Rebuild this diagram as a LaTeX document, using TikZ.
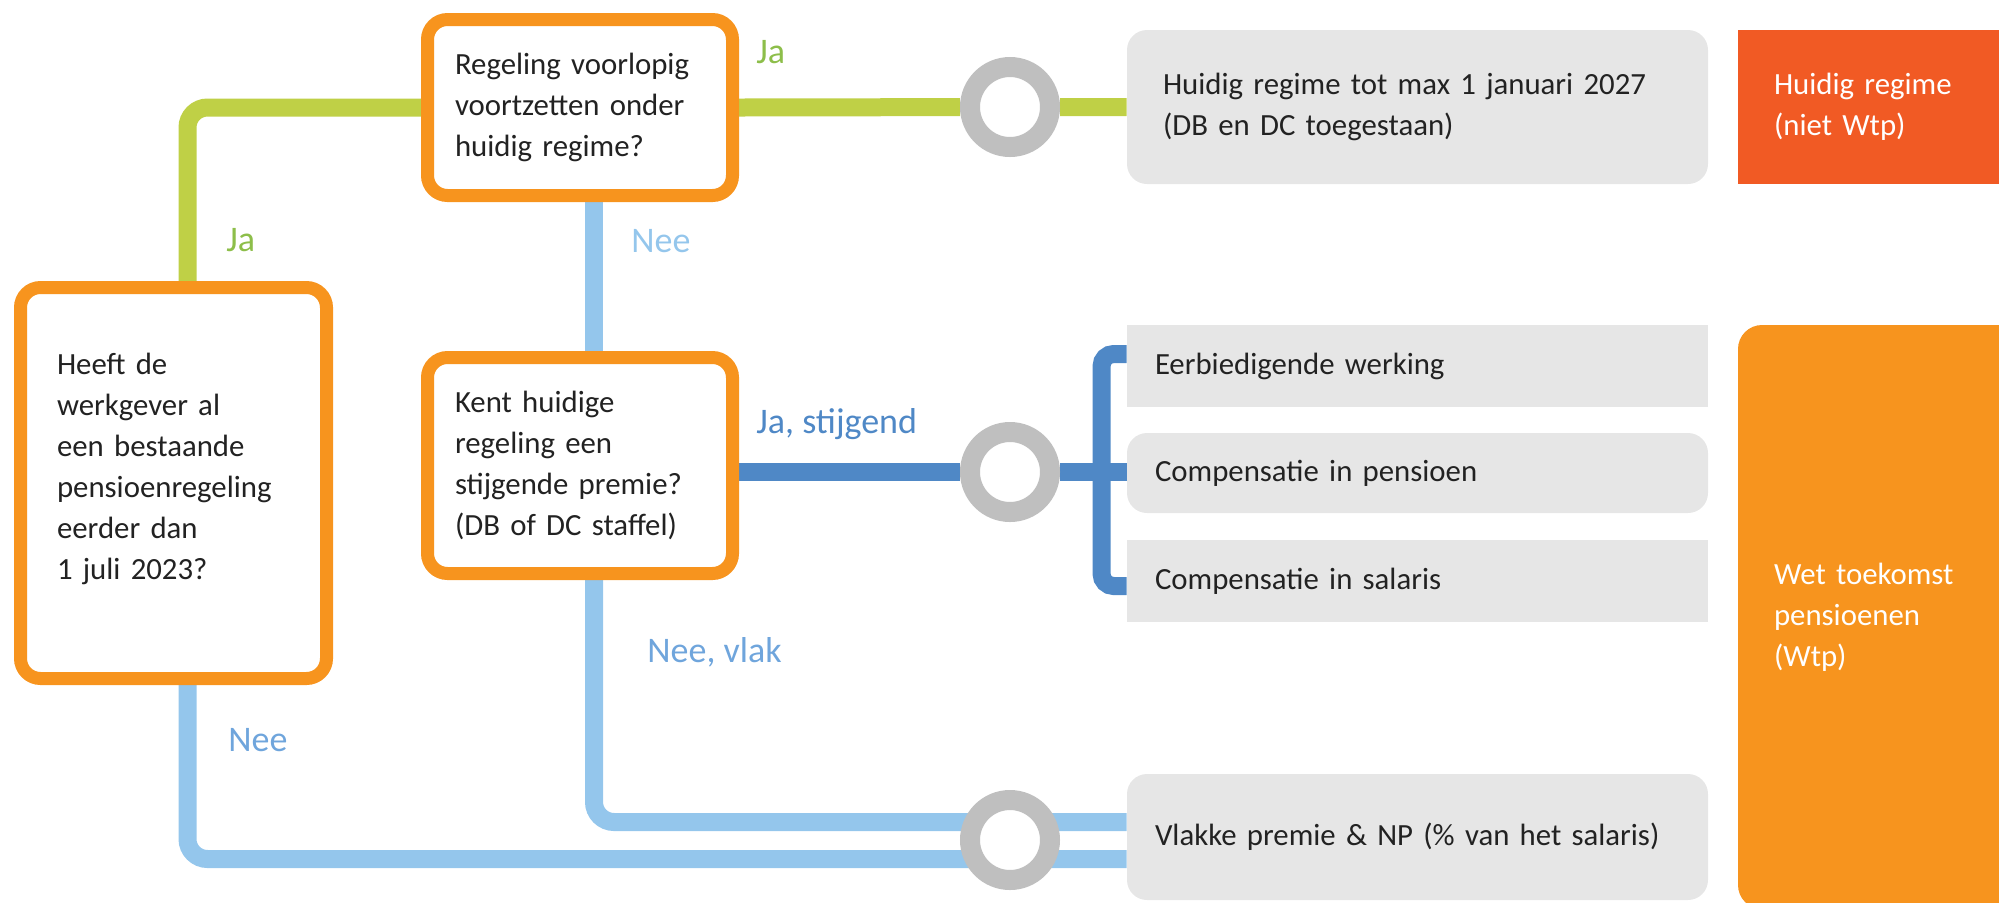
\documentclass[tikz,border=0pt]{standalone}
\usepackage{fontspec}
\setmainfont{Carlito}
\usetikzlibrary{backgrounds}

\definecolor{oranje}{HTML}{F7941E}
\definecolor{rood}{HTML}{F15A24}
\definecolor{grijs}{HTML}{E6E6E6}
\definecolor{ringgrijs}{HTML}{BFBFBF}
\definecolor{lijngroen}{HTML}{BFD046}
\definecolor{jagroen}{HTML}{8DBE4A}
\definecolor{lichtblauw}{HTML}{94C6EC}
\definecolor{neeblauw}{HTML}{6FA5DC}
\definecolor{donkerblauw}{HTML}{4F88C6}
\definecolor{tekst}{HTML}{222222}

\newcommand{\gewoon}{\fontsize{15.4pt}{20.5pt}\selectfont}
\newcommand{\groot}{\fontsize{18pt}{22pt}\selectfont}

\begin{document}
\begin{tikzpicture}[x=0.5pt,y=-0.5pt,
    vraag/.style={draw=oranje,line width=6.5pt,rounded corners=10pt,fill=white,text=tekst,
        font=\gewoon,align=left,inner xsep=13.75pt,text width=125pt,minimum width=152.5pt},
    vak/.style={fill=grijs,rounded corners=10pt,text=tekst,font=\gewoon,align=left,
        inner xsep=14pt,text width=262.5pt,minimum width=290.5pt},
    uitkomst/.style={text=white,font=\gewoon,align=left,inner xsep=18pt},
    ring/.style={circle,draw=ringgrijs,line width=10pt,fill=white,minimum size=40pt,inner sep=0pt},
    lijn/.style={line width=9pt,rounded corners=10pt},
    antwoord/.style={font=\groot,anchor=west,inner sep=0pt}]
    \useasboundingbox (0,0) rectangle (1999,902);

    % vragen
    \node at (173.5,483) [vraag,inner xsep=18.25pt,text width=116.5pt,minimum width=153pt,minimum height=195.5pt,text depth=119pt] (Q1)
        {Heeft de\\werkgever al\\een bestaande\\pensioenregeling\\eerder dan\\1 juli 2023?};
    \node at (580,107.5) [vraag,minimum height=88pt] (Q2) {Regeling voorlopig\\voortzetten onder\\huidig regime?};
    \node at (580,465.5) [vraag,minimum height=108pt] (Q3) {Kent huidige\\regeling een\\stijgende premie?\\(DB of DC staffel)};

    % ringen
    \node at (1010,107) [ring] (r1) {};
    \node at (1010,472) [ring] (r2) {};
    \node at (1010,840) [ring] (r3) {};

    % uitkomsten
    \node at (1417.5,107) [vak,inner xsep=18pt,text width=254.5pt,minimum height=77pt] (G1)
        {Huidig regime tot max 1 januari 2027\\(DB en DC toegestaan)};
    \node at (1417.5,366) [vak,sharp corners,minimum height=41pt] (G2) {Eerbiedigende werking};
    \node at (1417.5,473) [vak,minimum height=40pt] (G3) {Compensatie in pensioen};
    \node at (1417.5,581) [vak,sharp corners,minimum height=41pt] (G4) {Compensatie in salaris};
    \node at (1417.5,837) [vak,minimum height=63pt] (G5) {Vlakke premie \& NP (\% van het salaris)};

    \node at (1868.5,107) [uitkomst,fill=rood,text width=94.5pt,minimum width=130.5pt,minimum height=77pt] (R)
        {Huidig regime\\(niet Wtp)};
    \node at (1884,617) [uitkomst,fill=oranje,rounded corners=12pt,text width=110pt,minimum width=146pt,minimum height=292pt] (W)
        {Wet toekomst\\pensioenen\\(Wtp)};

    % antwoorden
    \node at (226,240) [antwoord,text=jagroen] (ja1) {Ja};
    \node at (756,52) [antwoord,text=jagroen] (ja2) {Ja};
    \node at (631,241) [antwoord,text=lichtblauw] (nee1) {Nee};
    \node at (756,424) [antwoord,text=donkerblauw] (jast) {Ja, stijgend};
    \node at (647,652) [antwoord,text=neeblauw] (neevl) {Nee, vlak};
    \node at (228,740) [antwoord,text=neeblauw] (nee2) {Nee};

    \begin{scope}[on background layer]
        \draw[lijn,lijngroen] ([xshift=7pt]Q1.north) |- (Q2.west);
        \draw[lijn,lijngroen] (Q2.east) -- (r1) -- (G1.west);
        \draw[lijn,lichtblauw] ([xshift=7pt]Q2.south) -- ([xshift=7pt]Q3.north);
        \draw[lijn,donkerblauw] (Q3.east |- r2) -- (r2) -- (r2 -| G3.west);
        \draw[lijn,donkerblauw,rounded corners=6pt] ([yshift=6pt]G2.west) -| ([xshift=-12.5pt]G3.west) |- ([yshift=-2.5pt]G4.west);
        \draw[lijn,lichtblauw] ([xshift=7pt]Q3.south) |- ([yshift=9pt]r3.center) -- ([yshift=9pt]r3.center -| G5.west);
        \draw[lijn,lichtblauw] ([xshift=7pt]Q1.south) |- ([yshift=-9.5pt]r3.center) -- ([yshift=-9.5pt]r3.center -| G5.west);
    \end{scope}
\end{tikzpicture}
\end{document}
